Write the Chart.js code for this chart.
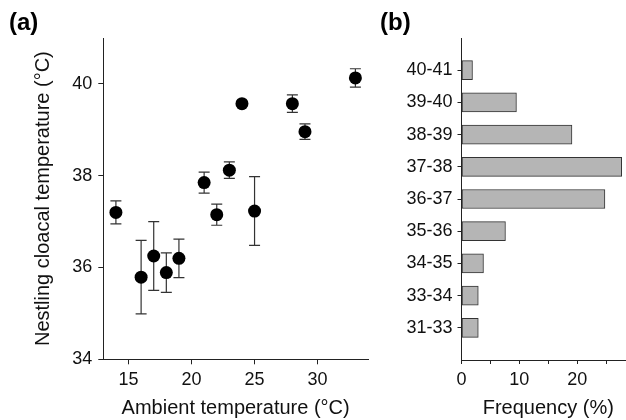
<!DOCTYPE html>
<html>
<head>
<meta charset="utf-8">
<script src="https://cdn.jsdelivr.net/npm/chart.js@4.4.1/dist/chart.umd.min.js"></script>
<style>
  html, body { margin: 0; padding: 0; background: #fff; overflow: hidden; }
  #wrap { position: relative; width: 626px; height: 420px; overflow: hidden; }
  #chartA { position: absolute; left: 0; top: 0; }
  #chartB { position: absolute; left: 380px; top: 0; }
</style>
</head>
<body>
<div id="wrap">
  <canvas id="chartA" width="380" height="420"></canvas>
  <canvas id="chartB" width="260" height="420"></canvas>
</div>
<script>
// (a) nestling cloacal temperature vs ambient temperature, mean +- SE
const ambientTemp = [14, 16, 17, 18, 19, 21, 22, 23, 24, 25, 28, 29, 33];
const cloacalTemp = [37.2, 35.79, 36.25, 35.89, 36.2, 37.85, 37.15, 38.12, 39.57, 37.23, 39.57, 38.96, 40.13];
const cloacalErr = [0.25, 0.8, 0.75, 0.43, 0.42, 0.23, 0.23, 0.18, 0.05, 0.75, 0.19, 0.17, 0.2];

// (b) frequency distribution of cloacal temperature classes
const tempClasses = ['40-41', '39-40', '38-39', '37-38', '36-37', '35-36', '34-35', '33-34', '31-33'];
const frequency = [1.9, 9.5, 19.1, 27.7, 24.8, 7.6, 3.8, 2.9, 2.9];

Chart.defaults.font.family = '"Liberation Sans", Arial, sans-serif';
Chart.defaults.color = '#111';

const axisColor = '#222';

const errorBars = {
  id: 'errorBars',
  beforeDatasetsDraw(chart) {
    const {ctx, scales: {x, y}} = chart;
    ctx.save();
    ctx.strokeStyle = '#333';
    ctx.lineWidth = 1.2;
    ambientTemp.forEach((t, i) => {
      const px = x.getPixelForValue(t);
      const top = y.getPixelForValue(cloacalTemp[i] + cloacalErr[i]);
      const bot = y.getPixelForValue(cloacalTemp[i] - cloacalErr[i]);
      ctx.beginPath();
      ctx.moveTo(px, top); ctx.lineTo(px, bot);
      ctx.moveTo(px - 5.5, top); ctx.lineTo(px + 5.5, top);
      ctx.moveTo(px - 5.5, bot); ctx.lineTo(px + 5.5, bot);
      ctx.stroke();
    });
    ctx.restore();
  }
};

function panelLabel(text, x) {
  return {
    id: 'panelLabel',
    afterDraw(chart) {
      const ctx = chart.ctx;
      ctx.save();
      ctx.font = 'bold 24px "Liberation Sans", Arial, sans-serif';
      ctx.fillStyle = '#000';
      ctx.textBaseline = 'alphabetic';
      ctx.fillText(text, x, 30);
      ctx.restore();
    }
  };
}

const chartA = new Chart(document.getElementById('chartA'), {
  type: 'scatter',
  data: {
    datasets: [{
      data: ambientTemp.map((t, i) => ({x: t, y: cloacalTemp[i]})),
      backgroundColor: '#000',
      borderWidth: 0,
      pointRadius: 6.5,
      pointHoverRadius: 6.5
    }]
  },
  options: {
    responsive: false,
    animation: false,
    layout: { padding: { top: 38, right: 12, left: 0, bottom: 0 } },
    plugins: { legend: { display: false }, tooltip: { enabled: false } },
    scales: {
      x: {
        type: 'linear', min: 13, max: 34,
        grid: { drawOnChartArea: false, tickLength: 5, color: axisColor },
        border: { color: axisColor },
        ticks: { stepSize: 5, includeBounds: false, padding: 5, font: { size: 18 }, maxRotation: 0 },
        title: { display: true, text: 'Ambient temperature (°C)', font: { size: 20 }, padding: { top: 0, bottom: 0 } },
        afterFit: s => { s.height = 60.7; }
      },
      y: {
        type: 'linear', min: 34, max: 41,
        grid: { drawOnChartArea: false, tickLength: 5, color: axisColor },
        border: { color: axisColor },
        ticks: { stepSize: 2, includeBounds: false, padding: 6, font: { size: 18 } },
        title: { display: true, text: 'Nestling cloacal temperature (°C)', font: { size: 20 }, padding: { top: 31, bottom: 0 } },
        afterFit: s => { s.width = 103.3; }
      }
    }
  },
  plugins: [errorBars, panelLabel('(a)', 9)]
});

const chartB = new Chart(document.getElementById('chartB'), {
  type: 'bar',
  data: {
    labels: ['', ...tempClasses, ''],
    datasets: [{
      data: [null, ...frequency, null],
      backgroundColor: '#b5b5b5',
      borderColor: '#333',
      borderWidth: 1,
      borderSkipped: false,
      barThickness: 19
    }]
  },
  options: {
    indexAxis: 'y',
    responsive: false,
    animation: false,
    layout: { padding: { top: 38, right: 4.5, left: 0, bottom: 0 } },
    plugins: { legend: { display: false }, tooltip: { enabled: false } },
    scales: {
      x: {
        type: 'linear', min: 0, max: 30,
        grid: { drawOnChartArea: false, tickLength: 4, color: axisColor },
        border: { color: axisColor },
        ticks: {
          stepSize: 5, autoSkip: false, padding: 5, font: { size: 18 }, maxRotation: 0,
          callback: v => (v % 10 === 0 && v < 30) ? v : ''
        },
        title: { display: true, text: 'Frequency (%)', font: { size: 20 }, padding: { top: 0, bottom: 0 } },
        afterFit: s => { s.height = 60; }
      },
      y: {
        type: 'category', offset: false,
        grid: {
          drawOnChartArea: false, offset: false, tickLength: 4, color: axisColor,
          tickColor: c => (c.tick && c.tick.label === '') ? 'rgba(0,0,0,0)' : axisColor
        },
        border: { color: axisColor },
        ticks: { autoSkip: false, padding: 5, font: { size: 18 } },
        afterFit: s => { s.width = 81.5; }
      }
    }
  },
  plugins: [panelLabel('(b)', 0)]
});
</script>
</body>
</html>
